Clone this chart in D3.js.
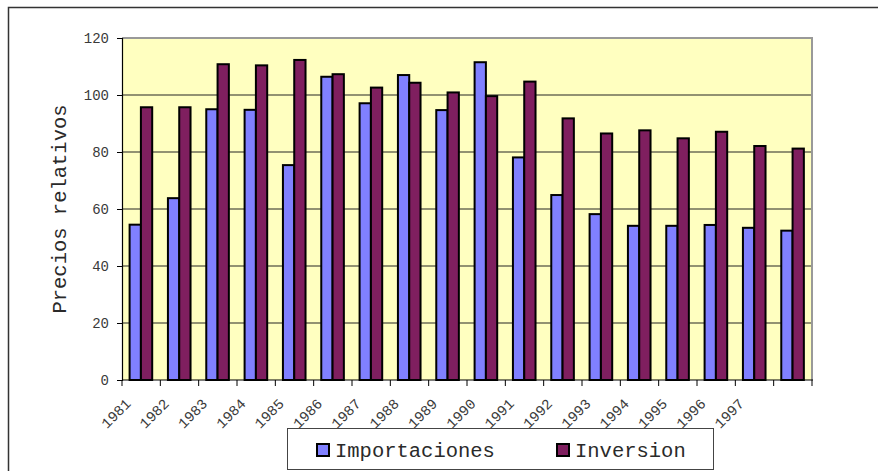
<!DOCTYPE html>
<html>
<head>
<meta charset="utf-8">
<script src="https://cdn.jsdelivr.net/npm/d3@7"></script>
<style>
  html, body { margin: 0; padding: 0; background: #fff; }
  svg { display: block; }
  text { font-family: "Liberation Mono", "Courier New", monospace; }
</style>
</head>
<body>
<svg id="chart" width="878" height="471"></svg>
<script>
const categories = ["1981","1982","1983","1984","1985","1986","1987","1988","1989","1990","1991","1992","1993","1994","1995","1996","1997","1998"];
const importaciones = [54.5, 63.8, 95.0, 94.8, 75.4, 106.4, 97.1, 107.0, 94.7, 111.5, 78.1, 64.9, 58.2, 54.1, 54.1, 54.4, 53.4, 52.4];
const inversion = [95.7, 95.7, 110.8, 110.4, 112.3, 107.3, 102.6, 104.3, 100.9, 99.6, 104.7, 91.8, 86.5, 87.6, 84.8, 87.1, 82.1, 81.2];
const xTickLabels = ["1981","1982","1983","1984","1985","1986","1987","1988","1989","1990","1991","1992","1993","1994","1995","1996","1997"];
const yTicks = [0, 20, 40, 60, 80, 100, 120];
const seriesNames = ["Importaciones", "Inversion"];
const seriesColors = ["#8080ff", "#7f1f5f"];

const svg = d3.select("#chart");
const L = 122, R = 812, T = 38, B = 380;

// outer chart frame (extends past the picture on right/bottom)
svg.append("rect").attr("x", 8.5).attr("y", 7.5).attr("width", 900).attr("height", 500)
  .attr("fill", "none").attr("stroke", "#333").attr("stroke-width", 1.5);

const x0 = d3.scaleBand().domain(categories).range([L, R]).padding(0);
const x1 = d3.scaleBand().domain(seriesNames).range([7.6, 30.2]).padding(0);
const y = d3.scaleLinear().domain([0, 120]).range([B, T]);

// plot background
svg.append("rect").attr("x", L).attr("y", T).attr("width", R - L).attr("height", B - T)
  .attr("fill", "#ffffc0");

// gridlines
svg.append("g").selectAll("line").data(yTicks.filter(d => d > 0 && d < 120)).join("line")
  .attr("x1", L).attr("x2", R).attr("y1", d => y(d)).attr("y2", d => y(d))
  .attr("stroke", "#6e6e58").attr("stroke-width", 1.5);

// plot border top/right
svg.append("path").attr("d", `M${L},${T}H${R}V${B}`).attr("fill", "none")
  .attr("stroke", "#999").attr("stroke-width", 2);

// bars
const data = categories.map((c, i) => ({ c, vals: [importaciones[i], inversion[i]] }));
const groups = svg.append("g").selectAll("g").data(data).join("g")
  .attr("transform", d => `translate(${x0(d.c)},0)`);
groups.selectAll("rect").data(d => d.vals.map((v, k) => ({ v, k }))).join("rect")
  .attr("x", d => x1(seriesNames[d.k]))
  .attr("width", x1.bandwidth())
  .attr("y", d => y(d.v))
  .attr("height", d => y(0) - y(d.v))
  .attr("fill", d => seriesColors[d.k])
  .attr("stroke", "#000").attr("stroke-width", 2);

// y axis
const yAxis = d3.axisLeft(y).tickValues(yTicks).tickSize(5).tickPadding(8);
const gy = svg.append("g").attr("transform", `translate(${L},0)`).call(yAxis);
gy.select(".domain").attr("stroke", "#000").attr("stroke-width", 1.2);
gy.selectAll(".tick line").attr("stroke", "#000");
gy.selectAll(".tick text").attr("font-family", "Liberation Mono, monospace")
  .attr("font-size", 14).attr("fill", "#3a3a3a");

// x axis line
svg.append("line").attr("x1", L).attr("x2", R + 1).attr("y1", B).attr("y2", B)
  .attr("stroke", "#000").attr("stroke-width", 1.2);
// x ticks at category boundaries
const boundaries = categories.map(c => x0(c)).concat([x0.range()[1]]);
svg.append("g").selectAll("line").data(boundaries).join("line")
  .attr("x1", d => d).attr("x2", d => d).attr("y1", B).attr("y2", B + 6)
  .attr("stroke", "#000").attr("stroke-width", 1);
// x tick labels (rotated)
svg.append("g").selectAll("text").data(xTickLabels).join("text")
  .attr("transform", (d, i) => `translate(${boundaries[i] + 6},${B + 21}) rotate(-45)`)
  .attr("text-anchor", "end")
  .attr("dy", "0.35em")
  .attr("font-size", 14.5).attr("fill", "#3a3a3a")
  .text(d => d);

// y axis title
svg.append("text")
  .attr("transform", `translate(66,${(T + B) / 2}) rotate(-90)`)
  .attr("text-anchor", "middle")
  .attr("font-size", 20.5).attr("fill", "#2a2a2a")
  .text("Precios relativos");

// legend
const lg = svg.append("g");
lg.append("rect").attr("x", 287.5).attr("y", 428.5).attr("width", 426).attr("height", 41)
  .attr("fill", "#fff").attr("stroke", "#444").attr("stroke-width", 1);
const legX = [317, 557];
seriesNames.forEach((n, k) => {
  lg.append("rect").attr("x", legX[k]).attr("y", 444).attr("width", 12).attr("height", 12)
    .attr("fill", seriesColors[k]).attr("stroke", "#000").attr("stroke-width", 2);
  lg.append("text").attr("x", legX[k] + 18).attr("y", 457)
    .attr("font-size", 20.5).attr("fill", "#2a2a2a").text(n);
});
</script>
</body>
</html>
